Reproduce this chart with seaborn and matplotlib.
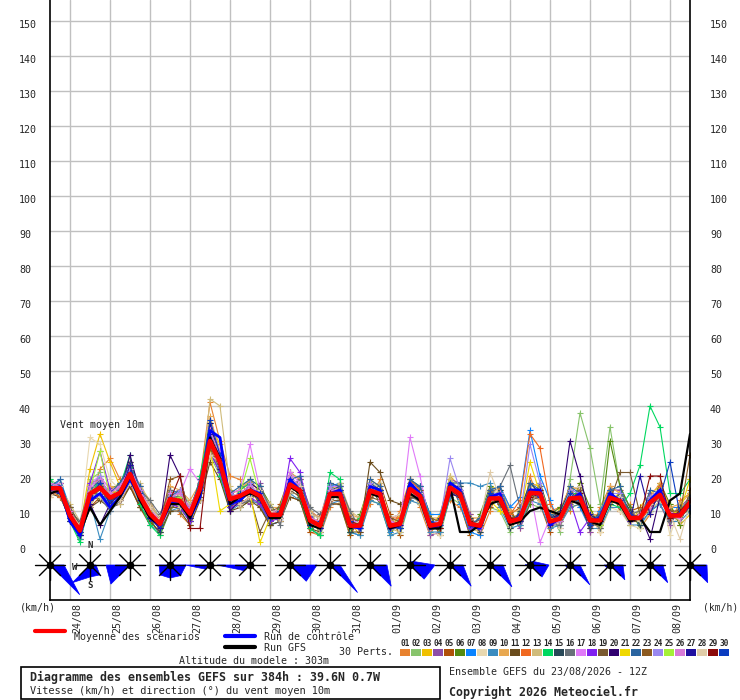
import numpy as np
import pandas as pd
import seaborn as sns
import matplotlib.pyplot as plt
import matplotlib.transforms as mtransforms
from matplotlib.patches import Polygon, Rectangle
from matplotlib.lines import Line2D

# ----------------------------------------
# Data (6-hourly steps, 0 -> 384h)
# ----------------------------------------
hours = list(range(0, 385, 6))
grid_hours = list(range(12, 384, 24))
date_labels = ["24/08", "25/08", "26/08", "27/08", "28/08", "29/08", "30/08", "31/08",
               "01/09", "02/09", "03/09", "04/09", "05/09", "06/09", "07/09", "08/09"]
speed_ticks = list(range(0, 151, 10))

mean_run = [16.5, 16.5, 8.7, 4.4, 14.9, 16.7, 13.8, 15.2, 20.6, 14.3,
            9.2, 6.3, 13.4, 12.9, 9.2, 16.3, 30.0, 23.9, 13.4, 14.3,
            15.8, 14.3, 8.9, 8.9, 17.6, 15.8, 7.3, 5.8, 14.9, 14.9,
            5.8, 5.8, 15.8, 14.9, 5.8, 6.3, 16.3, 14.3, 5.8, 6.3,
            16.7, 14.9, 6.3, 5.8, 13.6, 13.6, 7.0, 7.8, 15.2, 15.0,
            7.0, 7.8, 13.6, 13.8, 7.3, 7.3, 13.8, 12.9, 8.0, 8.0,
            12.4, 14.6, 8.7, 8.7, 12.4]
control_run = [16, 17, 7, 3, 13, 15, 11, 14, 19, 14, 8, 6, 12, 13, 8, 14, 33, 31, 12, 13,
               16, 15, 8, 9, 19, 16, 7, 6, 15, 16, 6, 5, 17, 16, 5, 6, 18, 15, 5, 6,
               18, 16, 6, 5, 14, 15, 7, 8, 16, 16, 6, 8, 13, 15, 7, 8, 15, 13, 8, 8,
               13, 16, 9, 9, 12]
gfs_run = [15, 16, 8, 4, 11, 6, 10, 14, 20, 13, 8, 6, 12, 12, 8, 15, 31, 25, 12, 14,
           15, 14, 8, 8, 17, 15, 6, 5, 14, 14, 5, 6, 15, 14, 5, 6, 15, 13, 5, 5,
           17, 4, 4, 6, 12, 13, 6, 7, 10, 11, 10, 9, 13, 12, 7, 6, 13, 12, 7, 8,
           4, 4, 13, 15, 32]

pert_01 = [17, 15, 7, 2, 12, 22, 25, 19, 18, 11, 7, 4, 16, 9, 6, 19, 41, 30, 20, 19,
           13, 12, 6, 11, 14, 13, 4, 3, 11, 18, 9, 4, 12, 19, 4, 10, 19, 11, 3, 9,
           13, 11, 9, 3, 10, 17, 11, 5, 20, 12, 10, 11, 10, 18, 4, 11, 17, 10, 12, 5,
           9, 18, 6, 13, 15]
pert_02 = [19, 17, 11, 6, 19, 21, 11, 13, 18, 17, 12, 8, 10, 16, 12, 13, 26, 20, 10, 17,
           19, 17, 12, 7, 21, 19, 10, 3, 18, 12, 3, 9, 13, 12, 9, 3, 13, 17, 9, 3,
           14, 12, 3, 9, 11, 10, 4, 11, 12, 11, 10, 4, 19, 38, 28, 12, 34, 17, 11, 6,
           10, 12, 6, 12, 9]
pert_03 = [14, 18, 10, 5, 22, 32, 24, 17, 22, 12, 10, 4, 16, 11, 7, 19, 35, 29, 15, 12,
           19, 15, 6, 10, 19, 14, 8, 4, 16, 18, 7, 3, 19, 13, 4, 9, 18, 12, 5, 9,
           20, 17, 9, 4, 17, 16, 5, 10, 18, 17, 5, 11, 11, 12, 10, 4, 11, 16, 6, 11,
           15, 17, 12, 6, 9]
pert_04 = [16, 15, 7, 6, 13, 19, 12, 18, 24, 17, 11, 5, 11, 12, 11, 13, 33, 27, 11, 13,
           12, 18, 10, 7, 15, 20, 10, 8, 18, 17, 9, 4, 18, 12, 8, 9, 13, 17, 3, 4,
           19, 18, 9, 4, 16, 11, 10, 5, 12, 18, 9, 5, 16, 17, 4, 10, 16, 16, 11, 6,
           15, 12, 6, 11, 14]
pert_05 = [15, 18, 11, 3, 11, 14, 17, 13, 17, 11, 6, 8, 15, 16, 6, 18, 27, 21, 10, 17,
           18, 11, 6, 12, 20, 13, 4, 9, 12, 12, 3, 8, 13, 18, 9, 3, 19, 16, 9, 3,
           18, 12, 3, 8, 11, 17, 9, 11, 17, 12, 4, 10, 17, 11, 9, 4, 17, 10, 10, 11,
           9, 17, 11, 6, 16]
pert_06 = [17, 14, 9, 2, 17, 13, 16, 18, 23, 11, 8, 3, 10, 14, 7, 20, 32, 22, 16, 11,
           13, 17, 12, 8, 21, 13, 5, 3, 18, 13, 4, 9, 18, 12, 3, 8, 19, 17, 9, 4,
           14, 17, 4, 9, 17, 11, 10, 6, 12, 18, 9, 11, 11, 18, 11, 5, 30, 17, 11, 5,
           10, 18, 12, 6, 15]
pert_07 = [16, 19, 11, 6, 16, 18, 10, 13, 22, 17, 12, 8, 16, 15, 12, 13, 34, 20, 14, 12,
           18, 12, 6, 7, 15, 18, 10, 4, 17, 18, 4, 3, 18, 17, 4, 8, 18, 17, 9, 9,
           19, 12, 4, 3, 16, 17, 11, 14, 33, 20, 13, 6, 16, 11, 5, 10, 16, 11, 10, 6,
           10, 12, 11, 11, 9]
pert_08 = [14, 16, 10, 6, 31, 29, 19, 16, 19, 16, 12, 7, 16, 12, 7, 14, 36, 24, 11, 17,
           18, 12, 11, 11, 15, 18, 9, 8, 17, 12, 8, 8, 18, 17, 8, 9, 13, 12, 4, 3,
           19, 17, 8, 8, 16, 12, 5, 10, 17, 12, 10, 5, 16, 17, 9, 4, 11, 10, 6, 5,
           10, 17, 3, 11, 9]
pert_09 = [15, 15, 7, 2, 13, 2, 10, 15, 19, 12, 6, 4, 10, 11, 7, 14, 27, 21, 10, 12,
           13, 12, 6, 7, 15, 13, 5, 3, 12, 13, 4, 3, 13, 12, 3, 4, 13, 12, 4, 4,
           14, 18, 18, 17, 18, 11, 5, 6, 13, 12, 5, 6, 11, 12, 5, 5, 11, 11, 6, 6,
           10, 12, 7, 7, 10]
pert_10 = [16, 18, 10, 5, 15, 19, 17, 16, 20, 17, 13, 7, 17, 16, 13, 18, 37, 27, 15, 16,
           19, 15, 11, 11, 21, 19, 10, 8, 17, 17, 9, 8, 19, 17, 7, 8, 18, 16, 8, 8,
           19, 16, 8, 8, 16, 16, 10, 10, 18, 17, 9, 10, 17, 16, 9, 9, 17, 15, 9, 10,
           14, 18, 11, 12, 15]
pert_11 = [15, 14, 8, 3, 11, 13, 11, 12, 17, 11, 7, 4, 10, 10, 6, 13, 24, 19, 10, 11,
           13, 11, 6, 7, 14, 13, 5, 4, 12, 12, 4, 4, 24, 21, 13, 12, 14, 13, 5, 5,
           15, 14, 5, 5, 13, 13, 6, 7, 14, 14, 6, 7, 13, 13, 6, 6, 13, 12, 7, 7,
           11, 14, 8, 8, 11]
pert_12 = [16, 14, 9, 4, 18, 19, 12, 17, 24, 16, 8, 8, 15, 15, 11, 18, 33, 26, 15, 16,
           18, 12, 10, 7, 16, 19, 9, 5, 13, 17, 8, 5, 17, 13, 8, 8, 19, 16, 5, 8,
           15, 16, 8, 5, 16, 12, 9, 13, 32, 28, 12, 7, 16, 12, 5, 9, 15, 12, 10, 7,
           11, 17, 8, 11, 11]
pert_13 = [16, 17, 12, 7, 11, 17, 16, 12, 19, 18, 12, 8, 11, 15, 12, 13, 42, 40, 17, 11,
           14, 16, 12, 7, 15, 18, 11, 4, 13, 18, 10, 8, 14, 18, 5, 4, 15, 12, 5, 8,
           20, 13, 5, 4, 16, 15, 5, 10, 17, 13, 9, 6, 12, 16, 9, 5, 15, 11, 6, 10,
           10, 13, 10, 7, 14]
pert_14 = [19, 15, 7, 1, 13, 20, 11, 17, 26, 12, 6, 3, 15, 11, 7, 20, 35, 20, 11, 16,
           18, 12, 7, 11, 20, 14, 5, 3, 21, 19, 4, 8, 17, 16, 7, 5, 17, 15, 7, 5,
           18, 16, 5, 7, 15, 15, 6, 9, 16, 16, 6, 9, 15, 15, 8, 6, 12, 11, 15, 23,
           40, 34, 15, 15, 19]
pert_15 = [16, 18, 7, 4, 15, 17, 12, 16, 24, 13, 11, 4, 14, 14, 7, 17, 32, 22, 11, 15,
           17, 13, 7, 10, 19, 17, 6, 5, 16, 17, 4, 7, 18, 16, 5, 5, 17, 15, 5, 8,
           17, 17, 8, 4, 12, 16, 5, 10, 18, 15, 8, 10, 16, 12, 5, 9, 12, 15, 10, 6,
           14, 15, 7, 11, 10]
pert_16 = [15, 18, 10, 7, 17, 14, 10, 13, 18, 16, 13, 9, 16, 10, 11, 18, 26, 25, 15, 12,
           13, 17, 11, 6, 16, 19, 11, 9, 12, 17, 10, 5, 17, 16, 5, 5, 14, 13, 5, 7,
           15, 14, 5, 8, 15, 17, 23, 11, 14, 17, 6, 6, 12, 16, 8, 5, 13, 14, 9, 10,
           11, 16, 7, 10, 14]
pert_17 = [17, 18, 10, 5, 18, 20, 16, 17, 23, 16, 10, 7, 15, 15, 22, 18, 34, 27, 15, 16,
           29, 16, 10, 10, 21, 18, 8, 7, 17, 17, 7, 7, 16, 15, 6, 6, 31, 20, 6, 6,
           17, 15, 7, 5, 13, 15, 6, 9, 16, 1, 8, 7, 15, 13, 7, 8, 14, 12, 9, 8,
           13, 14, 10, 8, 12]
pert_18 = [15, 16, 8, 3, 18, 27, 16, 13, 19, 13, 8, 5, 12, 11, 7, 15, 27, 21, 11, 12,
           14, 12, 7, 8, 25, 21, 9, 5, 13, 13, 5, 5, 15, 14, 5, 6, 15, 13, 5, 6,
           16, 14, 5, 7, 15, 13, 8, 7, 14, 16, 6, 9, 13, 4, 8, 6, 13, 14, 7, 9,
           11, 16, 8, 10, 13]
pert_19 = [15, 16, 11, 6, 13, 14, 14, 13, 19, 15, 11, 8, 11, 11, 11, 14, 28, 24, 15, 12,
           14, 4, 10, 11, 16, 14, 9, 8, 13, 13, 8, 7, 14, 13, 8, 7, 14, 16, 8, 7,
           15, 14, 7, 7, 16, 12, 8, 9, 13, 14, 8, 9, 13, 16, 8, 9, 13, 21, 21, 9,
           13, 14, 10, 10, 13]
pert_20 = [16, 15, 8, 3, 12, 6, 12, 15, 26, 15, 8, 6, 26, 20, 8, 17, 35, 25, 10, 13,
           18, 16, 10, 8, 16, 17, 8, 5, 16, 14, 7, 6, 17, 16, 7, 5, 17, 15, 5, 7,
           17, 14, 6, 7, 14, 13, 7, 9, 15, 14, 8, 9, 30, 20, 8, 7, 15, 12, 8, 9,
           2, 14, 8, 9, 11]
pert_21 = [16, 17, 10, 5, 13, 18, 15, 16, 20, 15, 10, 7, 14, 12, 9, 15, 28, 10, 12, 15,
           15, 1, 8, 10, 17, 15, 8, 6, 16, 14, 6, 7, 15, 16, 5, 7, 17, 15, 7, 5,
           17, 15, 7, 6, 13, 10, 8, 8, 24, 15, 8, 7, 13, 14, 8, 6, 14, 14, 8, 7,
           13, 14, 9, 10, 19]
pert_22 = [17, 19, 10, 4, 16, 19, 15, 18, 23, 17, 10, 6, 14, 16, 10, 19, 33, 26, 15, 17,
           19, 17, 9, 9, 19, 20, 8, 6, 18, 17, 6, 5, 19, 17, 6, 7, 19, 17, 7, 6,
           18, 18, 6, 8, 16, 17, 8, 7, 18, 16, 9, 7, 17, 15, 7, 9, 16, 17, 8, 7,
           16, 15, 8, 9, 13]
pert_23 = [15, 16, 10, 5, 14, 16, 13, 14, 21, 13, 9, 6, 19, 20, 8, 15, 28, 22, 12, 13,
           15, 13, 9, 8, 17, 15, 8, 6, 14, 14, 7, 6, 15, 14, 6, 7, 16, 13, 5, 7,
           16, 15, 7, 5, 15, 14, 6, 8, 14, 16, 7, 8, 13, 14, 6, 8, 15, 12, 8, 9,
           12, 16, 8, 9, 26]
pert_24 = [15, 17, 8, 4, 17, 20, 13, 17, 22, 16, 10, 7, 13, 16, 10, 16, 33, 23, 15, 14,
           18, 14, 10, 8, 19, 17, 8, 5, 17, 15, 7, 5, 18, 15, 7, 6, 17, 15, 7, 7,
           25, 16, 6, 6, 15, 15, 7, 8, 29, 18, 6, 8, 16, 15, 8, 7, 15, 15, 7, 8,
           14, 16, 8, 9, 12]
pert_25 = [17, 16, 9, 5, 16, 27, 14, 16, 21, 13, 10, 6, 13, 14, 9, 17, 29, 25, 13, 15,
           25, 14, 8, 9, 18, 17, 7, 6, 14, 15, 5, 6, 15, 16, 6, 7, 15, 14, 5, 6,
           16, 14, 7, 6, 15, 13, 6, 7, 14, 16, 6, 9, 15, 13, 8, 6, 15, 12, 9, 7,
           12, 14, 8, 10, 12]
pert_26 = [18, 17, 10, 5, 17, 19, 15, 17, 22, 16, 11, 7, 14, 15, 11, 17, 33, 26, 14, 15,
           17, 15, 10, 9, 20, 17, 8, 7, 16, 16, 6, 5, 17, 13, 7, 6, 16, 13, 5, 6,
           16, 16, 7, 5, 13, 15, 7, 8, 16, 14, 6, 7, 15, 13, 7, 8, 13, 13, 7, 9,
           11, 16, 9, 8, 13]
pert_27 = [17, 15, 7, 3, 13, 18, 12, 15, 23, 13, 8, 5, 13, 12, 8, 17, 32, 22, 12, 14,
           16, 13, 8, 10, 18, 15, 6, 5, 15, 14, 6, 7, 15, 16, 5, 6, 17, 15, 7, 5,
           15, 14, 6, 7, 14, 13, 8, 7, 16, 15, 6, 8, 14, 13, 9, 7, 15, 13, 7, 20,
           9, 16, 8, 9, 11]
pert_28 = [14, 17, 9, 6, 15, 14, 11, 13, 18, 15, 11, 8, 14, 11, 10, 16, 26, 24, 14, 12,
           14, 16, 10, 8, 16, 17, 9, 8, 13, 15, 6, 7, 16, 14, 6, 7, 15, 15, 6, 7,
           16, 14, 6, 7, 21, 14, 6, 8, 15, 16, 7, 8, 15, 13, 7, 8, 13, 14, 8, 7,
           12, 14, 9, 2, 12]
pert_29 = [15, 16, 9, 4, 15, 17, 13, 15, 20, 14, 9, 6, 13, 20, 5, 5, 30, 25, 13, 14,
           16, 15, 9, 9, 17, 16, 7, 6, 15, 16, 7, 6, 15, 15, 6, 7, 16, 14, 6, 5,
           16, 14, 7, 6, 15, 13, 8, 8, 14, 16, 7, 9, 13, 15, 8, 7, 14, 12, 9, 8,
           20, 20, 8, 10, 13]
pert_30 = [17, 16, 8, 4, 14, 18, 13, 16, 21, 15, 8, 6, 14, 12, 10, 16, 36, 26, 12, 15,
           15, 15, 8, 10, 19, 15, 6, 7, 14, 16, 7, 5, 15, 16, 6, 5, 17, 13, 7, 6,
           16, 15, 6, 6, 15, 13, 7, 9, 16, 14, 7, 9, 15, 13, 6, 8, 13, 13, 9, 8,
           13, 14, 24, 9, 11]

pert_colors = ["#e8822f", "#88c46c", "#f0c000", "#8e4ea8", "#b05008", "#548a10",
               "#0a84ff", "#e8d8b0", "#3a8cc0", "#e8a850", "#6a4c1c", "#f06820",
               "#d0bc7c", "#00d860", "#284858", "#687078", "#e07af8", "#8020f0",
               "#7a5a30", "#300070", "#f0d800", "#2a64a0", "#8c5a20", "#9a88f0",
               "#a4f038", "#d87ad8", "#2010a0", "#e0cca8", "#8b0a0a", "#0a3cc0"]

# wind direction roses, one per day at 12Z (radius per direction, in pixels)
rose_hours = list(range(0, 385, 24))
rose_N = [0, 0, 0, 0, 0, 0, 0, 0, 0, 3, 0, 0, 3, 0, 0, 0, 0]
rose_NE = [0, 0, 0, 0, 0, 0, 0, 0, 0, 5, 0, 0, 5, 0, 0, 0, 0]
rose_E = [14, 6, 0, 16, 0, 0, 27, 10, 17, 25, 13, 13, 19, 10, 13, 13, 17]
rose_SE = [42, 14, 0, 15, 0, 0, 23, 39, 30, 20, 30, 31, 17, 28, 21, 25, 25]
rose_S = [0, 12, 0, 13, 0, 0, 0, 0, 0, 0, 0, 0, 0, 0, 0, 0, 0]
rose_SW = [0, 25, 27, 14, 6, 8, 0, 0, 0, 3, 0, 0, 0, 4, 4, 3, 0]
rose_W = [0, 0, 24, 11, 25, 33, 0, 0, 0, 3, 0, 0, 5, 5, 6, 4, 0]
rose_NW = [0, 0, 0, 0, 0, 0, 0, 0, 0, 0, 0, 0, 0, 0, 0, 0, 0]

perts = [pert_01, pert_02, pert_03, pert_04, pert_05, pert_06, pert_07, pert_08,
         pert_09, pert_10, pert_11, pert_12, pert_13, pert_14, pert_15, pert_16,
         pert_17, pert_18, pert_19, pert_20, pert_21, pert_22, pert_23, pert_24,
         pert_25, pert_26, pert_27, pert_28, pert_29, pert_30]
names = ["%02d" % (i + 1) for i in range(len(perts))]

df = pd.DataFrame({
    "hour": hours * len(perts),
    "speed": [v for p in perts for v in p],
    "member": np.repeat(names, len(hours)),
})

# ----------------------------------------
# Figure
# ----------------------------------------
sns.set_theme(style="white")
plt.rcParams["font.family"] = ["DejaVu Sans Mono", "DejaVu Sans"]

W, H = 740, 700
fig = plt.figure(figsize=(W / 100, H / 100), dpi=100)
fig.patch.set_facecolor("white")


def fx(x):
    return x / W


def fy(y):
    return 1 - y / H


rect = [fx(50), fy(600), 640 / W, 600 / H]
ax = fig.add_axes(rect)
ax.set_facecolor("white")

sns.lineplot(data=df, x="hour", y="speed", hue="member", hue_order=names,
             palette=dict(zip(names, pert_colors)), legend=False, sort=False,
             linewidth=0.8, marker="+", markersize=4, ax=ax)
for ln in ax.lines:
    ln.set_markeredgecolor(ln.get_color())
    ln.set_markeredgewidth(0.8)

sns.lineplot(x=hours, y=control_run, color="#0000ff", linewidth=2.0, ax=ax)
sns.lineplot(x=hours, y=gfs_run, color="black", linewidth=1.6, ax=ax)
sns.lineplot(x=hours, y=mean_run, color="#ff0000", linewidth=3.2, ax=ax)

ax.set_xlim(0, 384)
ax.set_ylim(-15.43, 156)
ax.set_xlabel("")
ax.set_ylabel("")
ax.set_axisbelow(True)
ax.grid(True, color="#c0c0c0", linewidth=1)

ax.set_xticks(grid_hours)
ax.set_xticklabels(date_labels, rotation=90, fontsize=7.2)
ax.tick_params(axis="x", length=0, pad=2)
xoff = mtransforms.ScaledTranslation(7 / 100, 0, fig.dpi_scale_trans)
for lbl in ax.get_xticklabels():
    lbl.set_transform(lbl.get_transform() + xoff)

ax.set_yticks(speed_ticks)
ax.set_yticklabels([str(v) for v in speed_ticks], fontsize=7.2, ha="left")
ax.tick_params(axis="y", length=0, pad=22.3)
yoff = mtransforms.ScaledTranslation(0, -3 / 100, fig.dpi_scale_trans)
for lbl in ax.get_yticklabels():
    lbl.set_transform(lbl.get_transform() + yoff)

for side in ["left", "right", "bottom"]:
    ax.spines[side].set_color("black")
    ax.spines[side].set_linewidth(1.2)
ax.spines["top"].set_visible(False)

ax2 = ax.twinx()
ax2.set_ylim(ax.get_ylim())
ax2.set_yticks(speed_ticks)
ax2.set_yticklabels([str(v) for v in speed_ticks], fontsize=7.2)
ax2.tick_params(axis="y", length=0, pad=14.4)
for lbl in ax2.get_yticklabels():
    lbl.set_transform(lbl.get_transform() + yoff)
for s in ax2.spines.values():
    s.set_visible(False)
ax2.grid(False)

# roses overlay: units so that 1 pixel is the same in x and y
px = 384 / 640
rax = fig.add_axes(rect)
rax.set_xlim(0, 384)
rax.set_ylim(0, 600 * px)
rax.axis("off")
rax.patch.set_alpha(0)

dir_angles = np.deg2rad([90, 45, 0, -45, -90, -135, 180, 135])
cy = 35 * px
for i, h in enumerate(rose_hours):
    radii = [rose_N[i], rose_NE[i], rose_E[i], rose_SE[i],
             rose_S[i], rose_SW[i], rose_W[i], rose_NW[i]]
    verts = [(h + r * px * np.cos(a), cy + r * px * np.sin(a))
             for r, a in zip(radii, dir_angles)]
    rax.add_patch(Polygon(verts, closed=True, facecolor="#0000ff",
                          edgecolor="#0000ff", lw=0.5, clip_on=False, zorder=2))
    for a in np.deg2rad([0, 45, 90, 135]):
        dx, dy = 15 * px * np.cos(a), 15 * px * np.sin(a)
        rax.plot([h - dx, h + dx], [cy - dy, cy + dy], color="black",
                 lw=1, clip_on=False, zorder=3)
    rax.plot([h], [cy], "o", color="black", ms=4.5, clip_on=False, zorder=4)

rax.text(24, cy + 19 * px, "N", ha="center", va="center", fontsize=6.5, fontweight="bold")
rax.text(24 - 15 * px, cy - 2 * px, "W", ha="center", va="center", fontsize=6.5, fontweight="bold")
rax.text(24, cy - 21 * px, "S", ha="center", va="center", fontsize=6.5, fontweight="bold")

# ----------------------------------------
# Texts and legend around the plot
# ----------------------------------------
fs = 7.2
fig.text(fx(60), fy(425), "Vent moyen 10m", fontsize=fs, va="center")
fig.text(fx(20), fy(607), "(km/h)", fontsize=fs, va="center")
fig.text(fx(703), fy(607), "(km/h)", fontsize=7.0, va="center")

fig.add_artist(Line2D([fx(35), fx(65)], [fy(631), fy(631)], color="#ff0000", lw=3,
                      transform=fig.transFigure))
fig.text(fx(74), fy(637), "Moyenne des scénarios", fontsize=fs, va="center")
fig.add_artist(Line2D([fx(225), fx(255)], [fy(636), fy(636)], color="#0000ff", lw=3,
                      transform=fig.transFigure))
fig.text(fx(264), fy(637), "Run de contrôle", fontsize=fs, va="center")
fig.add_artist(Line2D([fx(225), fx(255)], [fy(647), fy(647)], color="black", lw=3,
                      transform=fig.transFigure))
fig.text(fx(264), fy(648), "Run GFS", fontsize=fs, va="center")
fig.text(fx(339), fy(652), "30 Perts.", fontsize=fs, va="center")

for i, (nm, col) in enumerate(zip(names, pert_colors)):
    x0 = 400 + 11 * i
    fig.add_artist(Rectangle((fx(x0), fy(656)), 10 / W, 7 / H, facecolor=col,
                             edgecolor="none", transform=fig.transFigure))
    fig.text(fx(x0 + 5), fy(643), nm, fontsize=5.6, fontweight="bold",
             ha="center", va="center")

fig.text(fx(179), fy(661), "Altitude du modele : 303m", fontsize=fs, va="center")

fig.add_artist(Rectangle((fx(21), fy(699)), 419 / W, 32 / H, fill=False,
                         edgecolor="black", lw=1.2, transform=fig.transFigure))
fig.text(fx(30), fy(677), "Diagramme des ensembles GEFS sur 384h : 39.6N 0.7W",
         fontsize=8.4, fontweight="bold", va="center")
fig.text(fx(30), fy(691), "Vitesse (km/h) et direction (°) du vent moyen 10m",
         fontsize=7.4, va="center")
fig.text(fx(449), fy(672), "Ensemble GEFS du 23/08/2026 - 12Z", fontsize=fs, va="center")
fig.text(fx(449), fy(692), "Copyright 2026 Meteociel.fr", fontsize=8.4,
         fontweight="bold", va="center")

fig.savefig("out.png", dpi=100, facecolor="white")
